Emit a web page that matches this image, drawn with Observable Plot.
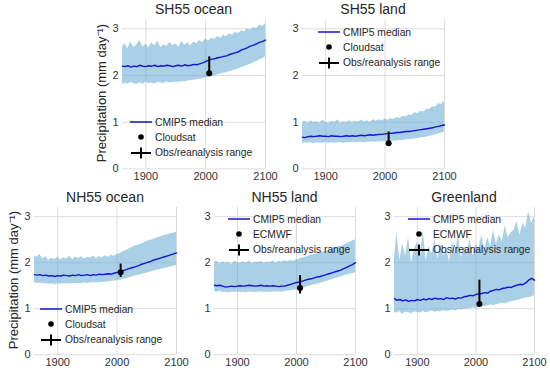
<!DOCTYPE html>
<html>
<head>
<meta charset="utf-8">
<script src="https://cdn.jsdelivr.net/npm/d3@7"></script>
<script src="https://cdn.jsdelivr.net/npm/@observablehq/plot@0.6"></script>
<style>
  body { margin: 0; background: #fff; }
  #root { position: relative; width: 550px; height: 370px; overflow: hidden; font-family: "Liberation Sans", Arial, sans-serif; color: #262626; }
  .abs { position: absolute; }
  .title { font-size: 14px; white-space: nowrap; transform: translate(-50%, -50%); }
  .ylab { font-size: 13px; white-space: nowrap; transform: translate(-50%, -50%) rotate(-90deg); }
  .leg { font-size: 10.3px; white-space: nowrap; display: flex; align-items: center; height: 14px; }
  .leg svg { margin-right: 3px; }
</style>
</head>
<body>
<div id="root"></div>
<script>
// ---------- data ----------
const years = [
  1861,1865,1870,1875,1880,1885,1890,1895,1900,1905,
  1910,1915,1920,1925,1930,1935,1940,1945,1950,1955,
  1960,1965,1970,1975,1980,1985,1990,1995,2000,2005,
  2010,2015,2020,2025,2030,2035,2040,2045,2050,2055,
  2060,2065,2070,2075,2080,2085,2090,2095,2100];

const sh55OceanMedian = [
  2.20,2.19,2.21,2.18,2.20,2.19,2.22,2.20,2.19,2.21,
  2.20,2.22,2.19,2.21,2.20,2.22,2.21,2.19,2.21,2.22,
  2.20,2.23,2.21,2.22,2.24,2.23,2.25,2.27,2.30,2.33,
  2.35,2.36,2.38,2.39,2.41,2.42,2.45,2.47,2.49,2.51,
  2.55,2.57,2.60,2.63,2.65,2.68,2.71,2.73,2.76];
const sh55OceanHigh = [
  2.62,2.68,2.58,2.72,2.60,2.66,2.75,2.61,2.67,2.59,
  2.70,2.63,2.74,2.60,2.66,2.62,2.71,2.64,2.68,2.61,
  2.73,2.65,2.70,2.64,2.72,2.68,2.75,2.70,2.78,2.74,
  2.80,2.77,2.84,2.80,2.86,2.83,2.90,2.86,2.92,2.90,
  2.96,2.93,3.00,2.97,3.03,3.00,3.08,3.05,3.10];
const sh55OceanLow = [
  1.80,1.84,1.82,1.85,1.83,1.81,1.84,1.82,1.85,1.83,
  1.84,1.82,1.85,1.84,1.83,1.86,1.84,1.85,1.86,1.85,
  1.87,1.86,1.88,1.89,1.90,1.91,1.92,1.93,1.95,1.96,
  1.98,1.99,2.01,2.03,2.05,2.06,2.08,2.10,2.12,2.14,
  2.17,2.19,2.22,2.24,2.27,2.30,2.33,2.36,2.40];

const sh55LandMedian = [
  0.68,0.67,0.69,0.70,0.69,0.70,0.71,0.70,0.70,0.69,
  0.71,0.70,0.70,0.69,0.70,0.71,0.70,0.71,0.70,0.71,
  0.72,0.71,0.72,0.73,0.72,0.73,0.74,0.74,0.75,0.76,
  0.76,0.77,0.78,0.78,0.79,0.80,0.80,0.81,0.82,0.83,
  0.84,0.85,0.86,0.87,0.88,0.90,0.91,0.93,0.94];
const sh55LandHigh = [
  1.00,1.02,0.97,1.03,0.99,1.01,0.98,1.04,1.00,0.97,
  1.02,0.99,1.05,0.98,1.01,0.99,1.03,0.98,1.02,1.00,
  1.04,1.01,1.03,0.99,1.06,1.02,1.05,1.03,1.07,1.04,
  1.08,1.06,1.10,1.08,1.13,1.11,1.16,1.14,1.20,1.18,
  1.24,1.22,1.28,1.27,1.33,1.32,1.40,1.38,1.46];
const sh55LandLow = [
  0.54,0.56,0.55,0.56,0.54,0.56,0.55,0.55,0.56,0.55,
  0.56,0.55,0.56,0.56,0.55,0.56,0.56,0.57,0.56,0.57,
  0.57,0.56,0.57,0.57,0.58,0.57,0.58,0.58,0.58,0.59,
  0.59,0.60,0.60,0.61,0.61,0.62,0.63,0.63,0.64,0.65,
  0.66,0.67,0.68,0.70,0.71,0.73,0.75,0.77,0.79];

const nh55OceanMedian = [
  1.74,1.73,1.74,1.72,1.73,1.71,1.72,1.70,1.72,1.71,
  1.73,1.72,1.71,1.73,1.72,1.74,1.72,1.73,1.74,1.72,
  1.74,1.73,1.75,1.74,1.75,1.76,1.75,1.77,1.79,1.80,
  1.82,1.85,1.87,1.89,1.91,1.93,1.96,1.98,2.00,2.02,
  2.05,2.07,2.09,2.11,2.13,2.15,2.17,2.19,2.21];
const nh55OceanHigh = [
  2.15,2.12,2.18,2.08,2.13,2.05,2.10,2.07,2.12,2.06,
  2.11,2.08,2.14,2.07,2.12,2.09,2.13,2.08,2.12,2.10,
  2.14,2.09,2.13,2.11,2.15,2.12,2.16,2.14,2.18,2.20,
  2.24,2.26,2.30,2.33,2.36,2.38,2.40,2.43,2.46,2.48,
  2.50,2.53,2.55,2.57,2.59,2.61,2.63,2.64,2.66];
const nh55OceanLow = [
  1.57,1.55,1.56,1.54,1.55,1.53,1.54,1.52,1.54,1.53,
  1.55,1.54,1.53,1.55,1.54,1.55,1.54,1.56,1.55,1.56,
  1.57,1.56,1.57,1.57,1.58,1.58,1.59,1.60,1.61,1.62,
  1.64,1.65,1.67,1.69,1.71,1.72,1.74,1.76,1.77,1.79,
  1.81,1.83,1.84,1.86,1.88,1.89,1.91,1.92,1.94];

const nh55LandMedian = [
  1.51,1.50,1.51,1.49,1.47,1.48,1.49,1.48,1.49,1.50,
  1.49,1.50,1.51,1.50,1.49,1.50,1.51,1.49,1.50,1.49,
  1.50,1.49,1.48,1.49,1.49,1.51,1.53,1.55,1.57,1.58,
  1.60,1.62,1.64,1.65,1.67,1.69,1.70,1.72,1.74,1.76,
  1.78,1.80,1.82,1.84,1.87,1.90,1.93,1.96,2.00];
const nh55LandHigh = [
  2.00,2.03,1.97,2.02,1.98,2.01,1.96,2.03,2.00,1.98,
  2.02,1.99,2.04,1.97,2.02,2.00,2.03,1.98,2.02,2.00,
  2.04,1.99,2.03,2.01,2.05,2.02,2.05,2.03,2.06,2.08,
  2.10,2.12,2.14,2.16,2.18,2.19,2.21,2.23,2.25,2.27,
  2.29,2.31,2.34,2.36,2.38,2.41,2.44,2.47,2.50];
const nh55LandLow = [
  1.37,1.36,1.38,1.35,1.36,1.34,1.36,1.35,1.37,1.35,
  1.36,1.34,1.37,1.35,1.36,1.35,1.37,1.36,1.36,1.35,
  1.37,1.36,1.37,1.36,1.38,1.38,1.39,1.40,1.41,1.43,
  1.44,1.46,1.48,1.50,1.52,1.53,1.55,1.57,1.59,1.61,
  1.63,1.65,1.67,1.69,1.71,1.73,1.75,1.76,1.78];

const greenlandMedian = [
  1.22,1.18,1.20,1.17,1.19,1.16,1.18,1.17,1.20,1.18,
  1.21,1.19,1.22,1.20,1.23,1.21,1.22,1.20,1.24,1.22,
  1.23,1.21,1.24,1.23,1.26,1.27,1.29,1.28,1.31,1.32,
  1.33,1.35,1.34,1.38,1.40,1.42,1.41,1.44,1.45,1.47,
  1.46,1.49,1.51,1.53,1.52,1.56,1.62,1.66,1.62];
const greenlandHigh = [
  2.10,2.65,2.05,2.40,2.15,2.55,2.00,2.30,2.45,2.10,
  2.70,2.05,2.35,2.20,2.50,2.08,2.40,2.15,2.30,2.02,
  2.45,2.20,2.60,2.10,2.35,2.25,2.50,2.15,2.40,2.30,
  2.60,2.25,2.55,2.35,2.70,2.40,2.60,2.45,2.80,2.55,
  2.65,2.70,2.90,2.60,2.85,2.75,3.10,2.85,3.00];
const greenlandLow = [
  0.92,0.90,0.94,0.88,0.93,0.91,0.89,0.93,0.92,0.90,
  0.94,0.91,0.93,0.95,0.92,0.94,0.93,0.96,0.94,0.95,
  0.97,0.95,0.98,0.97,0.99,1.00,1.00,1.02,1.01,1.03,
  1.05,1.04,1.06,1.08,1.07,1.09,1.10,1.12,1.11,1.13,
  1.15,1.16,1.18,1.19,1.21,1.23,1.24,1.26,1.28];

// observation point and obs/reanalysis range, one per panel
const panelTitles = ["SH55 ocean", "SH55 land", "NH55 ocean", "NH55 land", "Greenland"];
const obsSource   = ["Cloudsat", "Cloudsat", "Cloudsat", "ECMWF", "ECMWF"];
const obsYear     = [2006, 2006, 2006, 2006, 2006];
const obsValue    = [2.05, 0.55, 1.79, 1.45, 1.10];
const obsLow      = [2.05, 0.55, 1.68, 1.32, 1.10];
const obsHigh     = [2.40, 0.79, 1.97, 1.72, 1.62];

const xTicks = [1900, 2000, 2100];
const yTicks = [0, 1, 2, 3];
const yLabel = "Precipitation (mm day\u207B\u00B9)";
const legendLabels = ["CMIP5 median", null, "Obs/reanalysis range"];

// ---------- layout (pixels) ----------
const series = [
  [sh55OceanMedian, sh55OceanLow, sh55OceanHigh],
  [sh55LandMedian, sh55LandLow, sh55LandHigh],
  [nh55OceanMedian, nh55OceanLow, nh55OceanHigh],
  [nh55LandMedian, nh55LandLow, nh55LandHigh],
  [greenlandMedian, greenlandLow, greenlandHigh]
];
const frames = [
  {left: 122, top: 18.6, width: 143, height: 149.4, ylab: true,  legX: 130, legY: 122},
  {left: 302, top: 18.6, width: 142, height: 149.4, ylab: false, legX: 318, legY: 32},
  {left: 34,  top: 206.8, width: 142, height: 147.2, ylab: true,  legX: 40,  legY: 309},
  {left: 214, top: 206.8, width: 141, height: 147.2, ylab: false, legX: 228, legY: 219},
  {left: 394, top: 206.8, width: 140, height: 147.2, ylab: false, legX: 408, legY: 219}
];

const root = document.getElementById("root");
const mL = 40, mR = 8, mT = 6, mB = 20;
const bandColor = "#6baed6", lineColor = "#1414d2";

function addDiv(cls, x, y, html) {
  const d = document.createElement("div");
  d.className = "abs " + cls;
  d.style.left = x + "px";
  d.style.top = y + "px";
  d.innerHTML = html;
  root.appendChild(d);
  return d;
}

function swatch(kind) {
  let inner = "";
  if (kind === 0) inner = `<line x1="0" x2="22" y1="7" y2="7" stroke="${lineColor}" stroke-width="1.5"/>`;
  if (kind === 1) inner = `<circle cx="11" cy="7" r="2.8" fill="black"/>`;
  if (kind === 2) inner = `<line x1="1" x2="21" y1="7" y2="7" stroke="black" stroke-width="2"/><line x1="11" x2="11" y1="1.5" y2="12.5" stroke="black" stroke-width="2"/>`;
  return `<svg width="22" height="14">${inner}</svg>`;
}

frames.forEach((f, i) => {
  const [med, lo, hi] = series[i];
  const rows = years.map((yr, k) => ({year: yr, med: med[k], lo: lo[k], hi: hi[k]}));
  const obs = [{year: obsYear[i], value: obsValue[i], lo: obsLow[i], hi: obsHigh[i]}];

  const chart = Plot.plot({
    width: f.width + mL + mR,
    height: f.height + mT + mB,
    marginLeft: mL, marginRight: mR, marginTop: mT, marginBottom: mB,
    style: {fontFamily: "'Liberation Sans', Arial, sans-serif", fontSize: "11px", color: "#333", background: "transparent", overflow: "visible"},
    x: {domain: [1861, 2100], ticks: xTicks, tickFormat: d => String(d), tickSize: 0, tickPadding: 3, label: null},
    y: {domain: [0, 3.2], ticks: yTicks, tickFormat: d => String(d), tickSize: 0, tickPadding: 4, label: null},
    marks: [
      Plot.gridX(xTicks, {stroke: "#dcdcdc", strokeOpacity: 1, strokeWidth: 1}),
      Plot.gridY(yTicks, {stroke: "#dcdcdc", strokeOpacity: 1, strokeWidth: 1}),
      Plot.areaY(rows, {x: "year", y1: "lo", y2: "hi", fill: bandColor, fillOpacity: 0.58}),
      Plot.lineY(rows, {x: "year", y: "med", stroke: lineColor, strokeWidth: 1.4}),
      Plot.ruleX(obs, {x: "year", y1: "lo", y2: "hi", stroke: "black", strokeWidth: 2}),
      Plot.dot(obs, {x: "year", y: "value", r: 3, fill: "black", stroke: "none"})
    ]
  });
  chart.style.position = "absolute";
  chart.style.left = (f.left - mL) + "px";
  chart.style.top = (f.top - mT) + "px";
  root.appendChild(chart);

  // title
  addDiv("title", f.left + f.width / 2, f.top - 9.5, panelTitles[i]);
  // y label
  if (f.ylab) addDiv("ylab", f.left - 21, f.top + f.height / 2, yLabel);
  // legend
  const labels = [legendLabels[0], obsSource[i], legendLabels[2]];
  labels.forEach((t, k) => {
    addDiv("leg", f.legX, f.legY + k * 15.3 - 7, swatch(k) + `<span>${t}</span>`);
  });
});
</script>
</body>
</html>
